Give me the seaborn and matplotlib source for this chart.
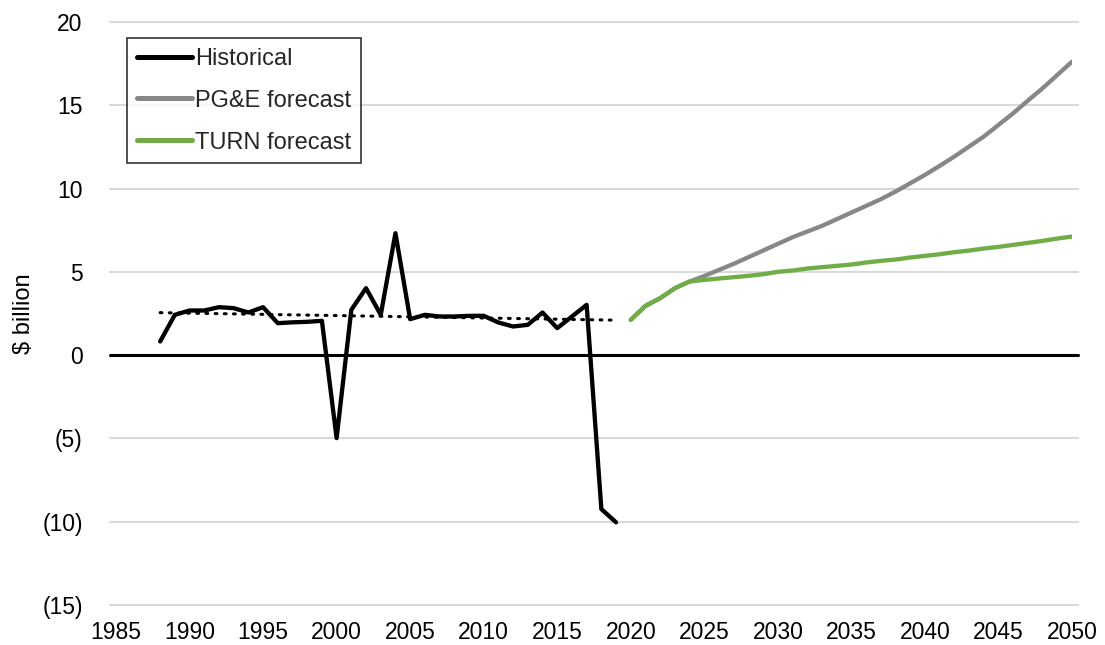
import matplotlib
matplotlib.use("Agg")
import matplotlib.pyplot as plt
import seaborn as sns
import pandas as pd
from matplotlib.ticker import FuncFormatter

hist_years = list(range(1988, 2020))
hist_vals = [0.82, 2.42, 2.68, 2.68, 2.88, 2.82, 2.56, 2.88, 1.92, 1.97, 2.0, 2.06,
             -4.98, 2.72, 4.02, 2.42, 7.32, 2.16, 2.42, 2.32, 2.32, 2.36, 2.36, 1.96,
             1.72, 1.82, 2.56, 1.62, 2.32, 3.02, -9.24, -10.04]

trend_years = [1988, 2019]
trend_vals = [2.55, 2.1]

fc_years = list(range(2020, 2051))
pge_vals = [2.12, 2.96, 3.42, 4.02, 4.42, 4.75, 5.12, 5.48, 5.88, 6.28, 6.68,
            7.08, 7.42, 7.76, 8.16, 8.56, 8.96, 9.36, 9.82, 10.32, 10.82,
            11.36, 11.92, 12.52, 13.12, 13.82, 14.52, 15.28, 16.02, 16.82, 17.62]
turn_vals = [2.12, 2.96, 3.42, 4.02, 4.42, 4.52, 4.6, 4.68, 4.76, 4.86, 5.0,
             5.08, 5.2, 5.28, 5.36, 5.44, 5.56, 5.66, 5.74, 5.86, 5.96,
             6.06, 6.18, 6.28, 6.4, 6.5, 6.62, 6.74, 6.86, 7.0, 7.12]

x_ticks = list(range(1985, 2051, 5))
y_ticks = list(range(-15, 21, 5))

sns.set_theme(style="white")
plt.rcParams["font.family"] = ["Liberation Sans", "DejaVu Sans"]

fig = plt.figure(figsize=(11.05, 6.45), dpi=100)
ax = fig.add_axes([116 / 1105, 1 - 605 / 645, (1072 - 116) / 1105, (605 - 22) / 645])

for yv in y_ticks:
    if yv != 0:
        ax.axhline(yv, color="#d9d9d9", lw=1.5, zorder=0, xmin=-0.006, xmax=1.006, clip_on=False)
ax.axhline(0, color="black", lw=2.2, zorder=1, xmin=-0.006, xmax=1.006, clip_on=False)

hist_df = pd.DataFrame({"year": hist_years, "val": hist_vals})
trend_df = pd.DataFrame({"year": trend_years, "val": trend_vals})
pge_df = pd.DataFrame({"year": fc_years, "val": pge_vals})
turn_df = pd.DataFrame({"year": fc_years, "val": turn_vals})

sns.lineplot(data=trend_df, x="year", y="val", ax=ax, color="black", lw=2.2,
             linestyle=(0, (0.6, 2.4)), dash_capstyle="round", zorder=2, legend=False)
sns.lineplot(data=hist_df, x="year", y="val", ax=ax, color="black", lw=3.1,
             label="Historical", zorder=3, solid_capstyle="round", solid_joinstyle="round")
sns.lineplot(data=pge_df, x="year", y="val", ax=ax, color="#878787", lw=3.1,
             label="PG&E forecast", zorder=3, solid_capstyle="round")
sns.lineplot(data=turn_df, x="year", y="val", ax=ax, color="#70ad47", lw=3.1,
             label="TURN forecast", zorder=4, solid_capstyle="round")

ax.set_xlim(1985, 2050)
ax.set_ylim(-15, 20)
ax.set_xticks(x_ticks)
ax.set_yticks(y_ticks)
ax.yaxis.set_major_formatter(FuncFormatter(lambda v, p: f"({abs(int(v))})" if v < 0 else f"{int(v)}"))
ax.tick_params(axis="both", length=0, labelsize=16.5, colors="black")
ax.tick_params(axis="y", pad=24)
ax.tick_params(axis="x", pad=11.5)
for s in ax.spines.values():
    s.set_visible(False)
ax.set_xlabel("")
ax.set_ylabel("$ billion", fontsize=17, color="black")
ax.yaxis.set_label_coords(-0.085, 0.50)

leg = ax.legend(loc="upper left", bbox_to_anchor=(11 / 956, 1 - 16 / 583), borderaxespad=0,
                fontsize=17, frameon=True, fancybox=False, edgecolor="black",
                handlelength=2.35, handletextpad=0.1, labelspacing=0.84, borderpad=0.42)
leg.get_frame().set_linewidth(1.2)
for line in leg.get_lines():
    line.set_linewidth(3.6)

fig.savefig("out.png", dpi=100, facecolor="white")
